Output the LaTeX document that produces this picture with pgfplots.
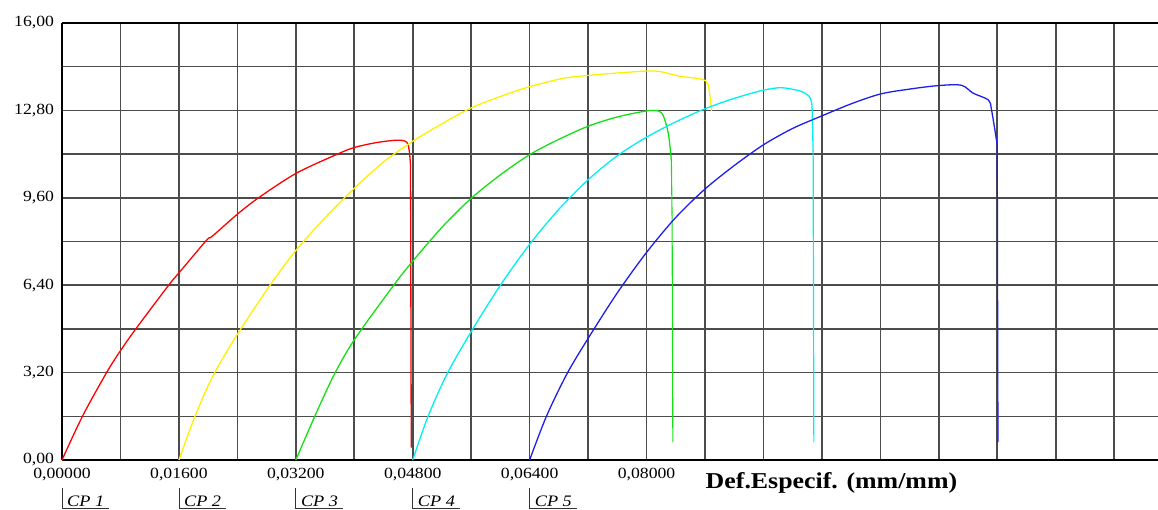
\documentclass[border=0pt]{standalone}
\usepackage{fontspec}
\setmainfont{Liberation Serif}[FakeStretch=1.14]
\usepackage{pgfplots}
\pgfplotsset{compat=1.18}
\definecolor{cpred}{RGB}{255,0,0}
\definecolor{cpyellow}{RGB}{255,240,0}
\definecolor{cpgreen}{RGB}{20,225,20}
\definecolor{cpcyan}{RGB}{0,240,240}
\definecolor{cpblue}{RGB}{30,30,235}
\begin{document}
\begin{tikzpicture}
\begin{axis}[name=ax, at={(0,0)}, anchor=south west,
  scale only axis, width=1096pt, height=437pt,
  xmin=0, xmax=0.15, ymin=0, ymax=16,
  axis x line*=bottom, axis y line*=left,
  every non boxed x axis/.append style={x axis line style=-},
  every non boxed y axis/.append style={y axis line style=-},
  axis line style={black, line width=2.4pt},
  xtick={0,0.008,0.016,0.024,0.032,0.040,0.048,0.056,0.064,0.072,0.080,0.088,0.096,0.104,0.112,0.120,0.128,0.136,0.144},
  xticklabels={{0,00000},{},{0,01600},{},{0,03200},{},{0,04800},{},{0,06400},{},{0,08000},{},{},{},{},{},{},{},{}},
  ytick={0,1.6,3.2,4.8,6.4,8.0,9.6,11.2,12.8,14.4,16},
  yticklabels={{0,00},{},{3,20},{},{6,40},{},{9,60},{},{12,80},{},{16,00}},
  grid=major, major grid style={black!70, line width=1.6pt},
  major tick length=0pt,
  tick label style={font=\fontsize{15.5}{18}\selectfont},
  xticklabel style={yshift=-4.5pt},
  yticklabel style={xshift=-4.5pt},
  clip=false,
]
\addplot[cpred, line width=1.3pt, smooth] coordinates {
(0,0) (0.0028,1.6) (0.0061,3.2) (0.008,4.0) (0.0101,4.8) (0.0146,6.4) (0.016,6.85) (0.0194,7.93) (0.0201,8.13) (0.0206,8.2) (0.024,9.0) (0.0269,9.6) (0.032,10.49) (0.0377,11.2) (0.040,11.44) (0.043,11.62) (0.0459,11.71) (0.0472,11.63) (0.04755,11.26) (0.0477,10.77)};
\addplot[cpred, line width=1.3pt] coordinates {(0.0477,10.77) (0.0478,0.45)};
\addplot[cpyellow, line width=1.3pt, smooth] coordinates {
(0.016,0) (0.0182,1.6) (0.0206,3.05) (0.024,4.6) (0.0285,6.41) (0.032,7.67) (0.036,8.87) (0.040,9.95) (0.044,10.91) (0.048,11.67) (0.052,12.31) (0.056,12.89) (0.060,13.31) (0.064,13.67) (0.0687,13.98) (0.072,14.08) (0.0755,14.16) (0.080,14.24) (0.0819,14.22) (0.0846,14.05) (0.0876,13.94) (0.0884,13.76) (0.0887,13.27) (0.0889,12.78)};
\addplot[cpgreen, line width=1.3pt, smooth] coordinates {
(0.032,0) (0.0346,1.6) (0.0372,3.1) (0.040,4.4) (0.0454,6.4) (0.048,7.28) (0.052,8.52) (0.056,9.58) (0.060,10.44) (0.064,11.18) (0.068,11.74) (0.072,12.22) (0.076,12.56) (0.080,12.78) (0.0816,12.78) (0.0823,12.6) (0.0830,11.93) (0.0834,10.95)};
\addplot[cpgreen, line width=1.1pt] coordinates {(0.0834,10.95) (0.0835,8.76) (0.0836,0.65)};
\addplot[cpcyan, line width=1.3pt, smooth] coordinates {
(0.048,0) (0.0501,1.6) (0.0527,3.15) (0.056,4.7) (0.060,6.4) (0.064,7.90) (0.068,9.18) (0.072,10.26) (0.076,11.14) (0.080,11.82) (0.084,12.38) (0.088,12.86) (0.092,13.24) (0.096,13.54) (0.0985,13.63) (0.1010,13.51) (0.1022,13.33) (0.1026,13.08) (0.1027,12.48) (0.1028,11.26)};
\addplot[cpcyan, line width=1.2pt] coordinates {(0.1028,11.26) (0.1029,0.65)};
\addplot[cpblue, line width=1.3pt, smooth] coordinates {
(0.064,0) (0.0663,1.6) (0.0691,3.15) (0.072,4.45) (0.076,6.12) (0.080,7.6) (0.084,8.88) (0.088,9.92) (0.092,10.78) (0.096,11.54) (0.100,12.14) (0.104,12.6) (0.108,13.04) (0.112,13.4) (0.116,13.58) (0.120,13.71) (0.1231,13.72) (0.1247,13.43) (0.1268,13.18) (0.1272,12.84) (0.1278,11.87) (0.1280,11.5)};
\addplot[cpblue, line width=1.2pt] coordinates {(0.1280,11.5) (0.1281,0.65)};
\draw[black, line width=2.2pt] (axis cs:0,16) -- (axis cs:0.15,16);
\coordinate (cp1) at (axis cs:0,0);
\coordinate (cp2) at (axis cs:0.016,0);
\coordinate (cp3) at (axis cs:0.032,0);
\coordinate (cp4) at (axis cs:0.048,0);
\coordinate (cp5) at (axis cs:0.064,0);
\coordinate (xl) at (axis cs:0.08807,0);
\end{axis}
\foreach \k in {1,...,5}{
  \draw[black!80, line width=0.8pt] ([yshift=-28pt]cp\k) -- ([yshift=-48pt]cp\k) -- ++(47pt,0);
  \node[anchor=base west, inner sep=0pt, font=\itshape\fontsize{16}{18}\selectfont] at ([xshift=5pt,yshift=-46pt]cp\k) {CP \k};
}
\node[anchor=base west, inner sep=0pt, font=\bfseries\fontsize{22.7}{26}\selectfont] at ([yshift=-28pt]xl) {Def.Especif. (mm/mm)};
\pgfresetboundingbox
\path[use as bounding box] ([xshift=-62pt,yshift=-49pt]ax.south west) rectangle ([yshift=23pt]ax.north east);
\end{tikzpicture}
\end{document}
